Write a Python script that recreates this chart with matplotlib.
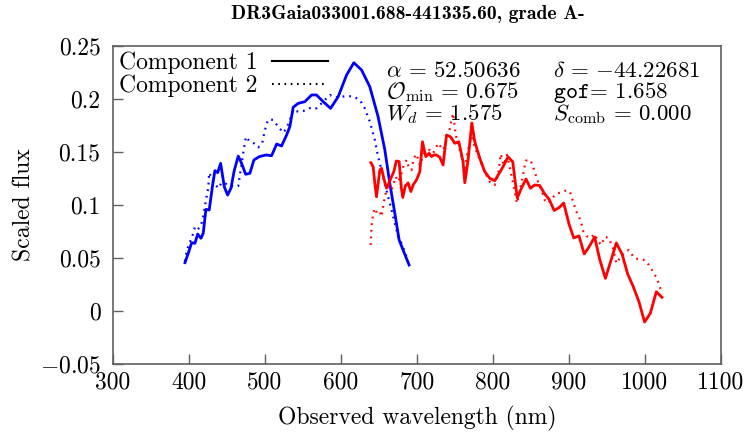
import matplotlib
matplotlib.use("Agg")
import matplotlib.pyplot as plt
from matplotlib.lines import Line2D

plt.rcParams['font.family'] = 'serif'
plt.rcParams['font.serif'] = ['cmr10']
plt.rcParams['mathtext.fontset'] = 'cm'
plt.rcParams['axes.unicode_minus'] = False

# -----------------------------
# Data
# -----------------------------
blue1_wl = [394.7, 399.0, 403.5, 407.8, 411.4, 415.7, 418.7, 422.3, 426.6, 431.1,
            434.1, 437.7, 441.6, 446.4, 450.8, 455.2, 459.5, 464.8, 469.2, 474.5,
            480.1, 485.4, 492.4, 501.2, 508.7, 515.3, 521.8, 528.4, 532.7, 537.1,
            543.7, 552.5, 561.3, 567.8, 576.5, 586.3, 596.3, 607.3, 616.9, 627.0,
            637.9, 648.8, 657.7, 664.2, 670.8, 676.5, 681.7, 689.6]
blue1_flux = [0.0456, 0.0544, 0.0644, 0.0639, 0.0726, 0.0686, 0.0733, 0.0959, 0.0953, 0.1189,
              0.1324, 0.1305, 0.1393, 0.1173, 0.1094, 0.1158, 0.1324, 0.1462, 0.1393, 0.1290,
              0.1299, 0.1425, 0.1456, 0.1472, 0.1465, 0.1575, 0.1557, 0.1660, 0.1739, 0.1922,
              0.1959, 0.1975, 0.2038, 0.2038, 0.1975, 0.1912, 0.2022, 0.2226, 0.2342, 0.2274,
              0.2116, 0.1833, 0.1519, 0.1205, 0.0922, 0.0670, 0.0575, 0.0434]

blue2_wl = [394.7, 396.0, 397.7, 404.8, 407.8, 411.4, 415.3, 418.7, 422.3, 425.3,
            426.6, 431.9, 438.5, 442.9, 449.5, 458.2, 464.8, 467.0, 471.3, 474.9,
            480.1, 485.4, 491.1, 496.3, 499.0, 502.1, 505.1, 510.8, 517.4, 523.9,
            528.4, 532.7, 537.1, 543.7, 552.5, 561.3, 567.8, 574.4, 578.7, 585.3,
            591.9, 600.7, 609.4, 616.9, 624.8, 631.3, 637.9, 644.5, 648.8, 653.3,
            657.7, 662.0, 666.5, 670.8, 675.2, 679.6, 684.0, 688.3]
blue2_flux = [0.0470, 0.0528, 0.0582, 0.0717, 0.0795, 0.0771, 0.0795, 0.0890, 0.1047, 0.1158,
              0.1305, 0.1220, 0.1158, 0.1210, 0.1198, 0.1173, 0.1179, 0.1283, 0.1488, 0.1644,
              0.1597, 0.1582, 0.1544, 0.1582, 0.1676, 0.1771, 0.1809, 0.1802, 0.1739, 0.1682,
              0.1724, 0.1802, 0.1896, 0.1880, 0.1890, 0.1922, 0.1912, 0.1959, 0.1991, 0.2038,
              0.2016, 0.2022, 0.2028, 0.2022, 0.1991, 0.1912, 0.1786, 0.1613, 0.1456, 0.1330,
              0.1205, 0.1078, 0.0953, 0.0827, 0.0701, 0.0639, 0.0559, 0.0465]

red1_wl = [639.3, 642.3, 644.5, 646.7, 648.9, 651.1, 653.3, 656.3, 659.9, 662.9,
           666.5, 669.5, 672.8, 676.5, 679.4, 681.3, 684.6, 688.3, 691.9, 694.9,
           699.3, 703.7, 707.2, 711.6, 715.9, 719.1, 722.1, 725.6, 730.0, 734.3,
           738.8, 744.1, 749.7, 755.0, 760.6, 762.9, 767.2, 772.1, 776.0, 782.6,
           789.2, 795.7, 802.3, 807.6, 813.2, 819.8, 826.0, 831.9, 837.8, 843.5,
           849.2, 854.9, 861.5, 868.1, 874.0, 880.5, 887.1, 893.0, 900.0, 906.2,
           913.2, 920.0, 926.6, 933.8, 940.4, 947.9, 954.4, 962.3, 970.0, 977.2,
           984.2, 992.0, 999.5, 1007.0, 1014.9, 1022.3]
red1_flux = [0.1399, 0.1361, 0.1205, 0.1078, 0.1205, 0.1330, 0.1346, 0.1252, 0.1158, 0.1205,
             0.1267, 0.1314, 0.1415, 0.1410, 0.1160, 0.1071, 0.1179, 0.1208, 0.1127, 0.1189,
             0.1236, 0.1314, 0.1597, 0.1456, 0.1488, 0.1456, 0.1472, 0.1472, 0.1450, 0.1377,
             0.1660, 0.1644, 0.1582, 0.1597, 0.1408, 0.1210, 0.1425, 0.1774, 0.1597, 0.1441,
             0.1314, 0.1252, 0.1229, 0.1292, 0.1361, 0.1453, 0.1408, 0.1066, 0.1165, 0.1245,
             0.1158, 0.1189, 0.1184, 0.1104, 0.1052, 0.0948, 0.0976, 0.1019, 0.0821, 0.0689,
             0.0708, 0.0538, 0.0608, 0.0698, 0.0486, 0.0308, 0.0458, 0.0642, 0.0533, 0.0349,
             0.0236, 0.0088, -0.0104, -0.0022, 0.0182, 0.0129]

red2_wl = [639.0, 640.2, 642.3, 644.5, 647.5, 651.1, 653.3, 655.4, 657.7, 659.9,
           663.3, 666.5, 672.1, 675.2, 679.6, 682.6, 686.2, 689.6, 692.8, 695.8,
           699.3, 703.7, 710.3, 716.8, 721.2, 727.8, 734.3, 740.9, 745.4, 747.5,
           751.0, 756.3, 762.9, 767.2, 771.7, 776.0, 782.6, 789.2, 795.7, 802.3,
           806.7, 810.2, 814.1, 818.5, 825.6, 831.6, 837.4, 840.4, 843.1, 849.2,
           852.7, 856.2, 859.2, 863.7, 868.0, 872.4, 878.9, 884.2, 890.0, 896.6,
           901.3, 905.3, 909.7, 913.1, 916.3, 918.7, 922.9, 928.5, 933.8, 938.1,
           942.6, 947.0, 952.6, 957.9, 962.3, 966.7, 973.3, 978.5, 986.4, 993.0,
           999.5, 1005.2, 1010.5, 1015.7, 1019.3, 1022.3]
red2_flux = [0.0623, 0.0795, 0.0922, 0.0969, 0.0922, 0.0937, 0.0890, 0.0984, 0.1078, 0.1142,
             0.1205, 0.1142, 0.1267, 0.1220, 0.1299, 0.1377, 0.1425, 0.1346, 0.1330, 0.1440,
             0.1480, 0.1377, 0.1503, 0.1519, 0.1488, 0.1582, 0.1519, 0.1644, 0.1802, 0.1865,
             0.1660, 0.1519, 0.1346, 0.1519, 0.1644, 0.1550, 0.1425, 0.1314, 0.1220, 0.1189,
             0.1283, 0.1481, 0.1377, 0.1472, 0.1236, 0.1016, 0.1205, 0.1314, 0.1418, 0.1425,
             0.1361, 0.1283, 0.1220, 0.1142, 0.1047, 0.1016, 0.1073, 0.1110, 0.1118, 0.1139,
             0.1123, 0.1031, 0.0937, 0.0890, 0.0827, 0.0755, 0.0708, 0.0689, 0.0726, 0.0658,
             0.0623, 0.0701, 0.0686, 0.0592, 0.0450, 0.0497, 0.0559, 0.0575, 0.0497, 0.0488,
             0.0481, 0.0434, 0.0371, 0.0308, 0.0229, 0.0182]

x_ticks = [300, 400, 500, 600, 700, 800, 900, 1000, 1100]
y_ticks = [-0.05, 0, 0.05, 0.1, 0.15, 0.2, 0.25]
y_tick_labels = ['$-0.05$', '0', '0.05', '0.1', '0.15', '0.2', '0.25']

title = "DR3Gaia033001.688-441335.60, grade A-"
info_left = [r'$\alpha\,=\,52.50636$', r'$\mathcal{O}_{\mathrm{min}}\,=\,0.675$', r'$W_d\,=\,1.575$']
info_right = [r'$\delta\,=\,{-}44.22681$', r'$\mathtt{gof}\!=\,1.658$', r'$S_{\mathrm{comb}}\,=\,0.000$']

# -----------------------------
# Plot
# -----------------------------
fig = plt.figure(figsize=(7.44, 4.41), dpi=100)
ax = fig.add_axes([113 / 744, 1 - 364 / 441, 608 / 744, 318 / 441])

dot = (0, (0.8, 2.2))
ax.plot(blue1_wl, blue1_flux, color='#0000ff', lw=2.0)
ax.plot(blue2_wl, blue2_flux, color='#0000ff', lw=1.6, linestyle=dot)
ax.plot(red1_wl, red1_flux, color='#ff0000', lw=2.0)
ax.plot(red2_wl, red2_flux, color='#ff0000', lw=1.6, linestyle=dot)

ax.set_xlim(300, 1100)
ax.set_ylim(-0.05, 0.25)
ax.set_xticks(x_ticks)
ax.set_xticklabels([str(t) for t in x_ticks])
ax.set_yticks(y_ticks)
ax.set_yticklabels(y_tick_labels)

ax.tick_params(direction='in', length=7, width=1, color='#606060', labelsize=17)
ax.tick_params(axis='x', pad=5)
ax.tick_params(axis='y', pad=9)
for s in ax.spines.values():
    s.set_color('#606060')
    s.set_linewidth(1.2)

ax.set_xlabel("Observed wavelength (nm)", fontsize=17, labelpad=9)
ax.set_ylabel("Scaled flux", fontsize=17, labelpad=3)
fig.suptitle(title, fontsize=14.2, fontfamily='cmb10', y=0.988, x=0.548)

handles = [Line2D([], [], color='black', lw=1.5),
           Line2D([], [], color='black', lw=1.5, linestyle=dot)]
ax.legend(handles, ['Component 1', 'Component 2'], loc='upper left',
          bbox_to_anchor=(0.0, 1.0), markerfirst=False, frameon=False,
          fontsize=17, handlelength=2.4, handletextpad=0.6,
          labelspacing=0.0, borderpad=0.15, borderaxespad=0.1)

for i, (l, r) in enumerate(zip(info_left, info_right)):
    yy = 0.9025 - i * 0.0675
    ax.text(0.449, yy, l, transform=ax.transAxes, fontsize=16.5, va='baseline')
    ax.text(0.724, yy, r, transform=ax.transAxes, fontsize=16.5, va='baseline')

fig.savefig("out.png", dpi=100)
